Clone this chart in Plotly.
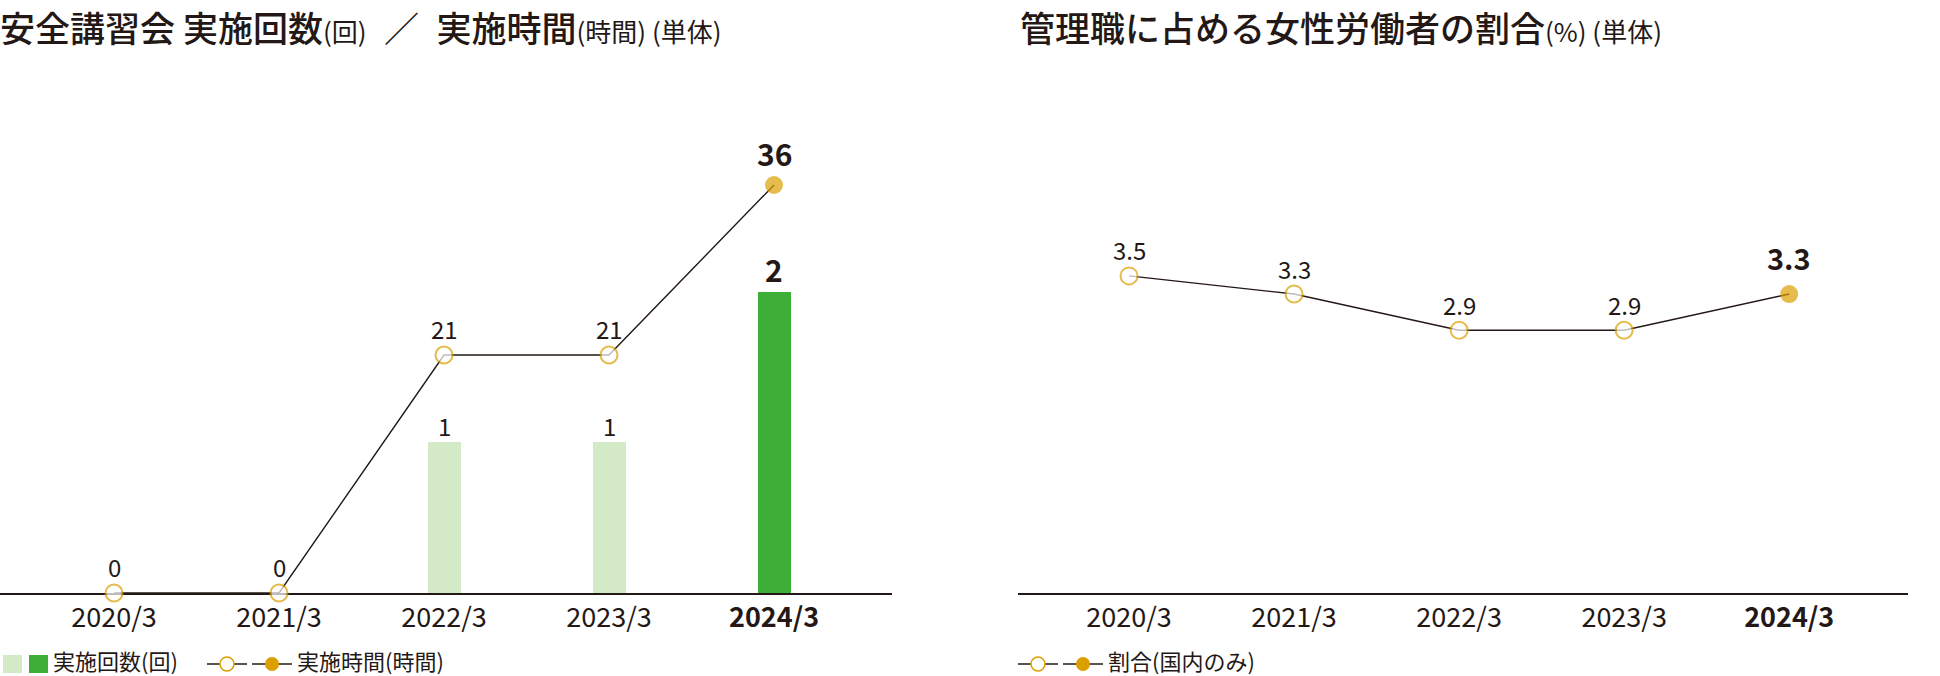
import plotly.graph_objects as go

# ---------------- data ----------------
categories = ["2020/3", "2021/3", "2022/3", "2023/3", "2024/3"]
tick_labels = ["2020/3", "2021/3", "2022/3", "2023/3", "<b>2024/3</b>"]
training_sessions = [0, 0, 1, 1, 2]          # 実施回数(回)
training_hours = [0, 0, 21, 21, 36]          # 実施時間(時間)
female_manager_ratio = [3.5, 3.3, 2.9, 2.9, 3.3]  # 割合(%)

# ---------------- style ----------------
W, H = 1940, 676
TEXT = "#231815"
GOLD = "#DBA000"
LIGHT_GREEN = "#D4E9C5"
GREEN = "#3EAF36"
FONT = "Noto Sans CJK JP"


def px(x):
    return x / W


def py(y):
    return 1 - y / H


Y_BOTTOM, Y_TOP = 593, 100
PLOT_H = Y_BOTTOM - Y_TOP
last = len(categories) - 1

fig = go.Figure()

bar_colors = [GREEN if i == last else LIGHT_GREEN for i in range(len(categories))]
fig.add_trace(go.Bar(
    x=categories, y=training_sessions, width=0.2,
    marker=dict(color=bar_colors, line=dict(width=0)),
    xaxis="x", yaxis="y", showlegend=False, hoverinfo="skip",
))

fills = [GOLD if i == last else "white" for i in range(len(categories))]
sizes = [18 if i == last else 17 for i in range(len(categories))]
line_w = [0 if i == last else 2 for i in range(len(categories))]

fig.add_trace(go.Scatter(
    x=categories, y=training_hours, mode="lines+markers",
    line=dict(color=TEXT, width=1.4),
    marker=dict(size=sizes, color=fills, line=dict(color=GOLD, width=line_w)),
    xaxis="x", yaxis="y2", cliponaxis=False, showlegend=False, hoverinfo="skip",
))
fig.add_trace(go.Scatter(
    x=categories, y=female_manager_ratio, mode="lines+markers",
    line=dict(color=TEXT, width=1.4),
    marker=dict(size=sizes, color=fills, line=dict(color=GOLD, width=line_w)),
    xaxis="x2", yaxis="y3", cliponaxis=False, showlegend=False, hoverinfo="skip",
))

xcommon = dict(
    type="category", showline=True, linecolor=TEXT, linewidth=1.6,
    showgrid=False, zeroline=False, ticks="", tickvals=categories, ticktext=tick_labels,
    tickfont=dict(family=FONT, size=27, color=TEXT), layer="below traces", fixedrange=True,
)
ycommon = dict(visible=False, fixedrange=True, domain=[py(Y_BOTTOM), py(Y_TOP)])

fig.update_layout(
    width=W, height=H, autosize=False,
    margin=dict(l=0, r=0, t=0, b=0, pad=0),
    paper_bgcolor="white", plot_bgcolor="white",
    font=dict(family=FONT, color=TEXT),
    bargap=0,
    xaxis=dict(domain=[px(0), px(892)], range=[-0.691, 4.715], anchor="y", **xcommon),
    yaxis=dict(range=[0, PLOT_H / 150.7], anchor="x", **ycommon),
    yaxis2=dict(range=[0, PLOT_H / 11.333], anchor="x", overlaying="y", visible=False, fixedrange=True),
    xaxis2=dict(domain=[px(1018), px(1908)], range=[-0.673, 4.72], anchor="y3", **xcommon),
    yaxis3=dict(range=[0, PLOT_H / 90.6], anchor="x2", **ycommon),
)

ann = []


def label(x, y, text, xref, yref, bold, shift, size_n, size_b):
    ann.append(dict(
        x=x, y=y, xref=xref, yref=yref, showarrow=False,
        text=f"<b>{text}</b>" if bold else text,
        font=dict(family=FONT, size=size_b if bold else size_n, color=TEXT),
        yanchor="middle", xanchor="center", yshift=shift,
    ))


for i, v in enumerate(training_hours):
    label(categories[i], v, str(v), "x", "y2", i == last, 32 if i == last else 27, 24, 30)
for i, v in enumerate(training_sessions):
    if v > 0:
        label(categories[i], v, str(v), "x", "y", i == last, 23 if i == last else 17, 24, 30)
for i, v in enumerate(female_manager_ratio):
    label(categories[i], v, f"{v:.1f}", "x2", "y3", i == last, 37 if i == last else 26, 24, 29)

# titles
small = "<span style='font-size:26px;font-weight:normal'>"
ann.append(dict(
    x=px(-1), y=1, xref="paper", yref="paper", xanchor="left", yanchor="top",
    borderpad=0, showarrow=False, font=dict(family=FONT, size=35, color=TEXT, weight=500),
    text=("安全講習会 実施回数" + small + "(回)</span>"
          + "\u2002<span style='font-weight:normal'>／</span>\u2002実施時間"
          + small + "(時間) (単体)</span>"),
))
ann.append(dict(
    x=px(1019), y=1, xref="paper", yref="paper", xanchor="left", yanchor="top",
    borderpad=0, showarrow=False, font=dict(family=FONT, size=35, color=TEXT, weight=500),
    text="管理職に占める女性労働者の割合" + small + "(%) (単体)</span>",
))

# legends
shapes = []
LY = 664
LT = 660
shapes.append(dict(type="rect", xref="paper", yref="paper", x0=px(3), x1=px(22),
                   y0=py(673), y1=py(655), fillcolor=LIGHT_GREEN, line=dict(width=0)))
shapes.append(dict(type="rect", xref="paper", yref="paper", x0=px(29), x1=px(48),
                   y0=py(673), y1=py(655), fillcolor=GREEN, line=dict(width=0)))
ann.append(dict(x=px(52), y=py(LT), xref="paper", yref="paper", xanchor="left", yanchor="middle",
                borderpad=0, showarrow=False, text="実施回数(回)",
                font=dict(family=FONT, size=22, color=TEXT)))


def line_legend(x_start, text):
    for k, filled in enumerate([False, True]):
        x0 = x_start + k * 45
        shapes.append(dict(type="line", xref="paper", yref="paper", x0=px(x0), x1=px(x0 + 40),
                           y0=py(LY), y1=py(LY), line=dict(color=TEXT, width=1.5)))
        cx = x0 + 20
        shapes.append(dict(type="circle", xref="paper", yref="paper",
                           x0=px(cx - 7), x1=px(cx + 7), y0=py(LY + 7), y1=py(LY - 7),
                           fillcolor=GOLD if filled else "white",
                           line=dict(color=GOLD, width=0 if filled else 1.5)))
    ann.append(dict(x=px(x_start + 89), y=py(LT), xref="paper", yref="paper", xanchor="left",
                    yanchor="middle", borderpad=0, showarrow=False, text=text,
                    font=dict(family=FONT, size=22, color=TEXT)))


line_legend(207, "実施時間(時間)")
line_legend(1018, "割合(国内のみ)")

fig.update_layout(annotations=ann, shapes=shapes)
fig.write_html("out.html", config={"staticPlot": True},
               post_script="document.body.style.margin='0';document.body.style.overflow='hidden';")
